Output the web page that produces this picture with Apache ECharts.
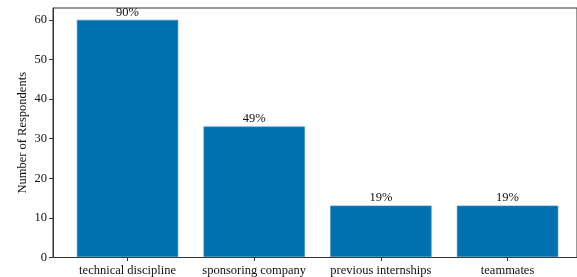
<!DOCTYPE html>
<html>
<head>
<meta charset="utf-8">
<script src="https://cdn.jsdelivr.net/npm/echarts@6/dist/echarts.min.js"></script>
<style>
html, body { margin: 0; padding: 0; background: #fff; }
#chart { width: 577px; height: 277px; }
</style>
</head>
<body>
<div id="chart"></div>
<script>
// categories and values
const categories = ["technical discipline", "sponsoring company", "previous internships", "teammates"];
const respondents = [60, 33, 13, 13];
const shares = ["90%", "49%", "19%", "19%"];
const yTicks = [0, 10, 20, 30, 40, 50, 60];

const font = "'Liberation Serif', 'DejaVu Serif', serif";
const axisColor = "#333";
const yMax = 63;

const chart = echarts.init(document.getElementById("chart"));

const option = {
	animation: false,
	textStyle: { fontFamily: font },
	grid: [
		// frame grid: matplotlib-style axes box (x range -0.6..3.6)
		{ left: 53, top: 8, width: 532, height: 249.5, show: true, borderColor: axisColor, borderWidth: 1, backgroundColor: "transparent" },
		// bar grid: one category band per bar
		{ left: 64.2, top: 8, width: 506.7, height: 249.5 },
	],
	xAxis: [
		{
			gridIndex: 0,
			type: "value",
			min: -0.6,
			max: 3.6,
			show: false,
		},
		{
			gridIndex: 1,
			type: "category",
			data: categories,
			axisLine: { show: false },
			axisTick: { show: true, alignWithLabel: true, length: 4, lineStyle: { color: axisColor } },
			axisLabel: { color: "#111", fontSize: 12.5, fontFamily: font, margin: 7, interval: 0 },
		},
	],
	yAxis: [
		{
			gridIndex: 0,
			type: "value",
			min: 0,
			max: yMax,
			interval: 10,
			name: "Number of Respondents",
			nameLocation: "middle",
			nameGap: 24,
			nameMoveOverlap: false,
			nameTextStyle: { color: "#111", fontSize: 12.5, fontFamily: font },
			axisLine: { show: true, onZero: false, lineStyle: { color: axisColor } },
			axisTick: { show: true, length: 4, lineStyle: { color: axisColor } },
			axisLabel: {
				color: "#111",
				fontSize: 12.5,
				fontFamily: font,
				margin: 6,
				showMaxLabel: false,
				formatter: v => (yTicks.includes(v) ? String(v) : ""),
			},
			splitLine: { show: false },
		},
		{
			gridIndex: 1,
			type: "value",
			min: 0,
			max: yMax,
			show: false,
		},
	],
	series: [
		{
			type: "bar",
			xAxisIndex: 1,
			yAxisIndex: 1,
			barWidth: "80%",
			data: respondents,
			itemStyle: { color: "#0070B0", borderColor: "#3d8fc6", borderWidth: 0.6 },
			label: {
				show: true,
				position: "top",
				distance: 1,
				color: "#111",
				fontSize: 12.5,
				fontFamily: font,
				formatter: p => shares[p.dataIndex],
			},
		},
	],
};

chart.setOption(option);
</script>
</body>
</html>
